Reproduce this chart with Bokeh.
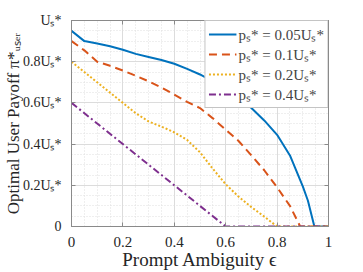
from bokeh.plotting import figure
from bokeh.models import LinearAxis, FixedTicker, Range1d, Legend, LegendItem, CustomLabelingPolicy
from bokeh.embed import file_html
from bokeh.resources import INLINE
import numpy as np

# ---- data ----
eps_005 = [0, 0.05, 0.1, 0.15, 0.2, 0.25, 0.3, 0.35, 0.4, 0.45, 0.5, 0.55,
           0.6, 0.65, 0.7, 0.75, 0.8, 0.85, 0.9, 0.92, 0.945, 1.0]
pay_005 = [0.95, 0.90, 0.888, 0.875, 0.858, 0.838, 0.823, 0.808, 0.79, 0.765,
           0.738, 0.705, 0.67, 0.625, 0.575, 0.515, 0.445, 0.345, 0.195, 0.125, 0.0, 0.0]

eps_01 = [0, 0.05, 0.1, 0.15, 0.2, 0.25, 0.3, 0.35, 0.4, 0.45, 0.5, 0.55,
          0.6, 0.65, 0.7, 0.75, 0.8, 0.85, 0.89, 1.0]
pay_01 = [0.90, 0.855, 0.80, 0.78, 0.757, 0.732, 0.705, 0.675, 0.64, 0.605,
          0.575, 0.525, 0.47, 0.415, 0.345, 0.273, 0.19, 0.10, 0.0, 0.0]

eps_02 = [0, 0.05, 0.1, 0.15, 0.2, 0.25, 0.3, 0.35, 0.4, 0.45, 0.5, 0.55,
          0.6, 0.65, 0.7, 0.75, 0.8, 1.0]
pay_02 = [0.80, 0.75, 0.70, 0.65, 0.60, 0.55, 0.51, 0.485, 0.457, 0.42,
          0.36, 0.28, 0.205, 0.145, 0.094, 0.048, 0.0, 0.0]

eps_04 = [0, 0.6, 1.0]
pay_04 = [0.6, 0.0, 0.0]

labels = ["pₛ* = 0.05Uₛ*", "pₛ* = 0.1Uₛ*", "pₛ* = 0.2Uₛ*", "pₛ* = 0.4Uₛ*"]
x_ticks = [0, 0.2, 0.4, 0.6, 0.8, 1]
x_tick_labels = ["0", "0.2", "0.4", "0.6", "0.8", "1"]
y_ticks = [0, 0.2, 0.4, 0.6, 0.8, 1]
y_tick_labels = ["0", "0.2Uₛ*", "0.4Uₛ*", "0.6Uₛ*", "0.8Uₛ*", "Uₛ*"]

FONT = "Liberation Serif"
AXC = "#8a8a8a"
colors = ["#0072BD", "#D95319", "#EDB120", "#7E2F8E"]
dashes = ["solid", "8 5", "2 2", "7 3 2 3"]

p = figure(frame_width=257, frame_height=206,
           x_range=Range1d(0, 1), y_range=Range1d(0, 1),
           output_backend="svg", toolbar_location=None,
           min_border_left=69, min_border_right=27,
           min_border_top=20, min_border_bottom=38)
p.background_fill_color = "white"
p.outline_line_color = AXC

minor = [round(v, 2) for v in np.arange(0, 1.0001, 0.05)]

for ax, ticks, labs in ((p.xaxis[0], x_ticks, x_tick_labels), (p.yaxis[0], y_ticks, y_tick_labels)):
    ax.ticker = FixedTicker(ticks=ticks, minor_ticks=minor)
    ax.major_label_overrides = {t: l for t, l in zip(ticks, labs)}
    ax.major_label_text_font = FONT
    ax.major_label_text_color = "#262626"
    ax.axis_label_text_font = FONT
    ax.axis_label_text_font_style = "normal"
    ax.axis_label_text_color = "#262626"
    ax.axis_line_color = AXC
    ax.major_tick_line_color = AXC
    ax.major_tick_in = 4
    ax.major_tick_out = 0
    ax.minor_tick_line_color = None

p.xaxis.major_label_text_font_size = "15px"
p.yaxis.major_label_text_font_size = "14px"
p.xaxis.major_label_standoff = 6
p.yaxis.major_label_standoff = 6
p.xaxis.axis_label = "Prompt Ambiguity ϵ"
p.yaxis.axis_label = "Optimal User Payoff π*ᵤₛₑᵣ"
p.xaxis.axis_label_text_font_size = "19px"
p.yaxis.axis_label_text_font_size = "17px"
p.xaxis.axis_label_standoff = -1
p.yaxis.axis_label_standoff = -3

for loc, ticks in (("above", x_ticks), ("right", y_ticks)):
    ax = LinearAxis(ticker=FixedTicker(ticks=ticks))
    ax.major_label_policy = CustomLabelingPolicy(
        code="for (const i of Array.from(indices)) { indices.unset(i) }; return indices")
    ax.major_label_standoff = 0
    ax.axis_line_color = AXC
    ax.major_tick_line_color = AXC
    ax.major_tick_in = 4
    ax.major_tick_out = 0
    ax.minor_tick_line_color = None
    p.add_layout(ax, loc)

p.xgrid.ticker = FixedTicker(ticks=x_ticks, minor_ticks=minor)
p.ygrid.ticker = FixedTicker(ticks=y_ticks, minor_ticks=minor)
for g in (p.xgrid[0], p.ygrid[0]):
    g.grid_line_color = "#dcdcdc"
    g.grid_line_width = 1
    g.minor_grid_line_color = "#dedede"
    g.minor_grid_line_dash = "1 2"

series = [(eps_005, pay_005), (eps_01, pay_01), (eps_02, pay_02), (eps_04, pay_04)]
items = []
for (xs, ys), c, d, lab in zip(series, colors, dashes, labels):
    r = p.line(xs, ys, line_color=c, line_width=2, line_dash=d)
    items.append(LegendItem(label=lab, renderers=[r]))

legend = Legend(items=items, location="top_right")
legend.margin = 0
legend.padding = 3
legend.spacing = 0
legend.label_text_font = FONT
legend.label_text_font_size = "15px"
legend.label_height = 18
legend.glyph_height = 18
legend.glyph_width = 28
legend.label_standoff = 2
legend.border_line_color = AXC
legend.background_fill_alpha = 1
p.add_layout(legend)

open("out.html", "w").write(file_html(p, INLINE))
